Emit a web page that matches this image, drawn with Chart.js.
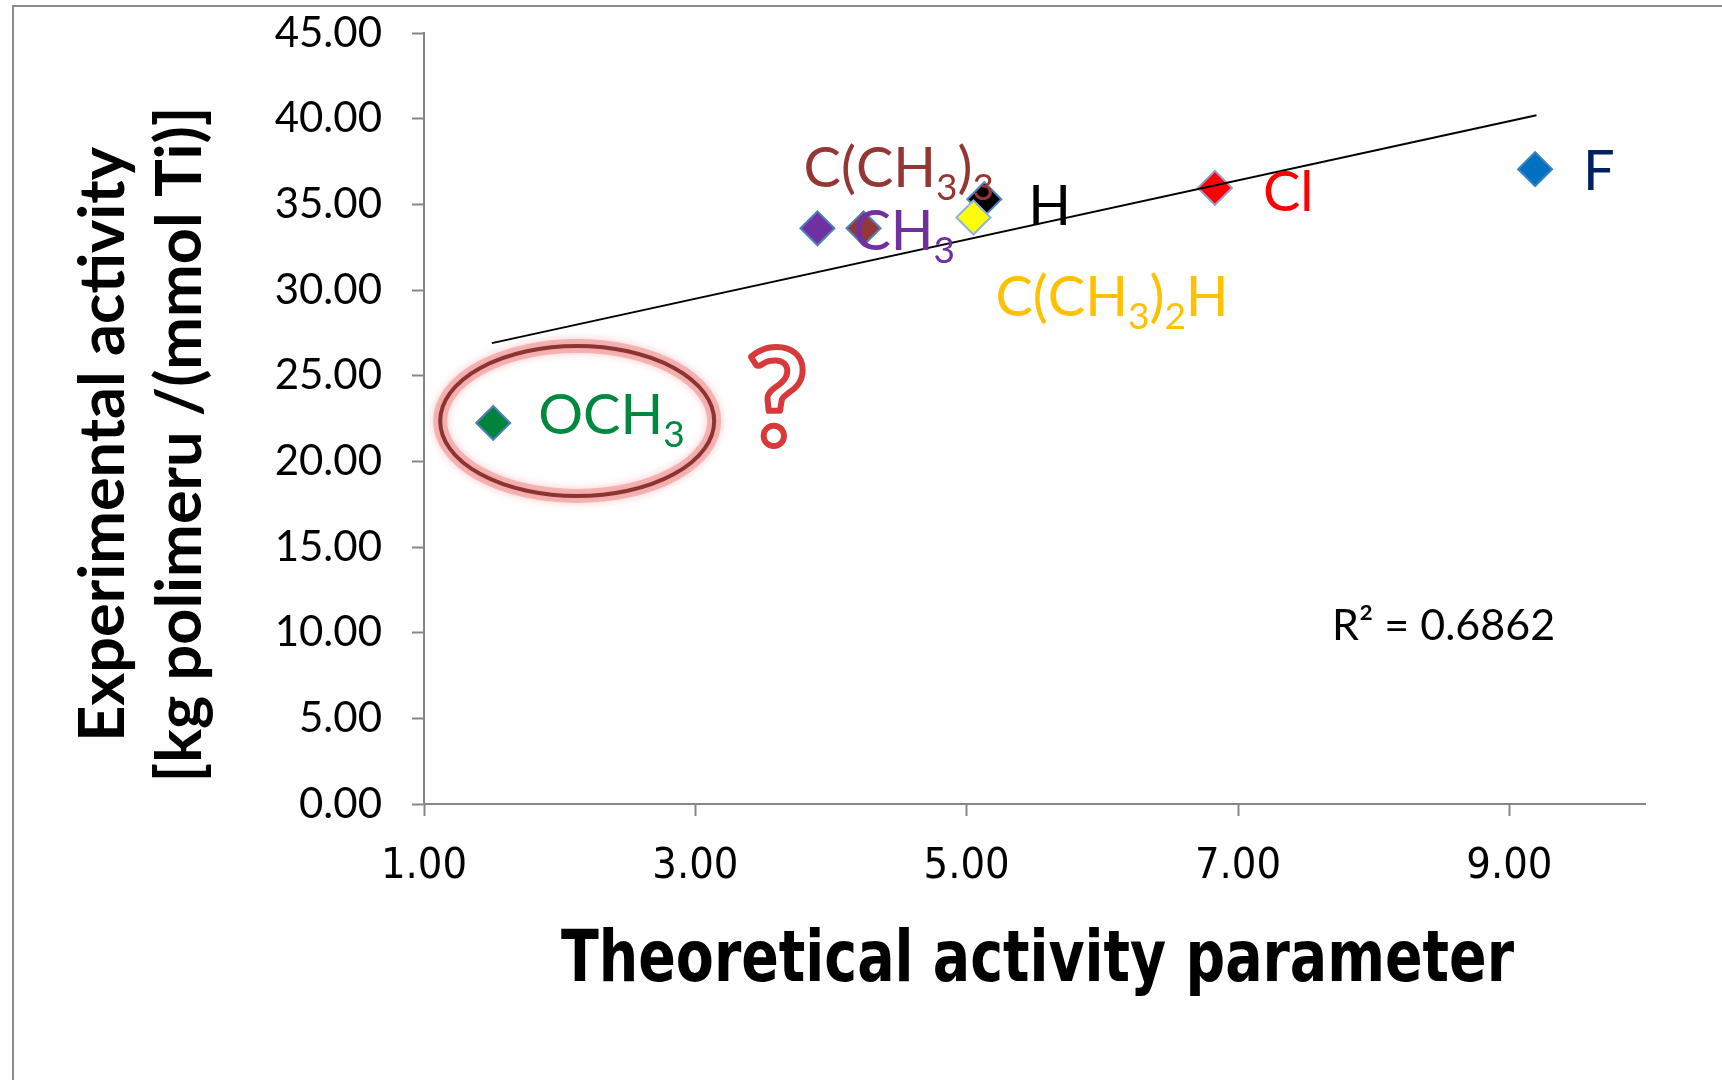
<!DOCTYPE html>
<html>
<head>
<meta charset="utf-8">
<script src="https://cdn.jsdelivr.net/npm/chart.js@4.4.1/dist/chart.umd.min.js"></script>
<style>
    html, body { margin: 0; padding: 0; background: #fff; }
    #wrap { position: relative; width: 1722px; height: 1080px; }
</style>
</head>
<body>
<div id="wrap"><canvas id="myChart" width="1722" height="1080"></canvas></div>
<script>
// values
const substituents = ['OCH_3', 'CH_3', 'C(CH_3)_3', 'H', 'C(CH_3)_2H', 'Cl', 'F'];
const theoretical = [1.51, 3.90, 4.24, 5.13, 5.05, 6.83, 9.19];
const experimental = [22.24, 33.6, 33.6, 35.3, 34.23, 35.96, 37.05];
const trendX = [1.5, 9.2];
const trendY = [26.9, 40.2];
const xTicks = [1, 3, 5, 7, 9];
const yTicks = [0, 5, 10, 15, 20, 25, 30, 35, 40, 45];
const rSquared = 'R\u00B2 = 0.6862';
const xTitle = 'Theoretical activity parameter';
const yTitle = ['Experimental activity', '[kg polimeru /(mmol Ti)]'];

// styles
const pointColors = ['#00843d', '#7030a0', '#953735', '#000000', '#ffff00', '#ff0000', '#0070c0'];
const pointBorders = ['#4f81bd', '#4f81bd', '#4f81bd', '#4f81bd', '#8db3e2', '#9a9ad0', '#3b82c4'];
const labelColors = ['#00883f', '#7030a0', '#943634', '#000000', '#ffc000', '#ff0000', '#002060'];
const labelOffsets = [[45, 11], [36, 22], [-60, -41], [44, 26], [22, 98], [48, 23], [48, 21]];
const axisGray = '#868686';
const narrow = "'DejaVu Sans Condensed', 'DejaVu Sans'";

function drawRich(ctx, str, x, y, size, color) {
    // "_" marks the next character as a subscript
    ctx.fillStyle = color;
    ctx.textAlign = 'left';
    ctx.textBaseline = 'alphabetic';
    let cx = x;
    for (let i = 0; i < str.length; i++) {
        let sub = false;
        let ch = str[i];
        if (ch === '_') { sub = true; i++; ch = str[i]; }
        ctx.font = (sub ? Math.round(size * 0.66) : size) + 'px Lato';
        ctx.fillText(ch, cx, sub ? y + 13 : y);
        cx += ctx.measureText(ch).width;
    }
}

const annotate = {
    id: 'annotate',
    beforeDraw(chart) {
        const ctx = chart.ctx;
        ctx.save();
        ctx.strokeStyle = '#8a8a8a';
        ctx.lineWidth = 2;
        ctx.beginPath();
        ctx.moveTo(13, 1080);
        ctx.lineTo(13, 6);
        ctx.lineTo(1722, 6);
        ctx.stroke();
        ctx.restore();
    },
    afterDatasetsDraw(chart) {
        const ctx = chart.ctx;
        const xs = chart.scales.x, ys = chart.scales.y;
        const area = chart.chartArea;
        ctx.save();

        // circle round OCH3
        const ox = xs.getPixelForValue(theoretical[0]);
        const oy = ys.getPixelForValue(experimental[0]);
        ctx.beginPath();
        ctx.ellipse(ox + 84, oy - 2, 137, 75, 0, 0, 2 * Math.PI);
        ctx.strokeStyle = 'rgba(240,140,140,0.55)';
        ctx.lineWidth = 14;
        ctx.shadowColor = 'rgba(240,120,120,0.7)';
        ctx.shadowBlur = 8;
        ctx.stroke();
        ctx.shadowBlur = 0;
        ctx.shadowColor = 'transparent';
        ctx.strokeStyle = '#8b3532';
        ctx.lineWidth = 4;
        ctx.stroke();

        // point labels
        for (let i = 0; i < substituents.length; i++) {
            const px = xs.getPixelForValue(theoretical[i]);
            const py = ys.getPixelForValue(experimental[i]);
            drawRich(ctx, substituents[i], px + labelOffsets[i][0], py + labelOffsets[i][1], 56, labelColors[i]);
        }

        // question mark
        ctx.font = 'bold 134px Lato';
        ctx.textAlign = 'center';
        ctx.textBaseline = 'alphabetic';
        ctx.lineWidth = 6;
        ctx.lineJoin = 'round';
        ctx.strokeStyle = '#d8393b';
        ctx.strokeText('?', ox + 284, oy + 22);

        // R squared
        ctx.font = '43px Lato';
        ctx.fillStyle = '#000';
        ctx.textAlign = 'left';
        ctx.fillText(rSquared, area.right - 313, area.bottom - 164);

        // x axis title, narrow bold
        ctx.save();
        ctx.font = 'bold 72px ' + narrow;
        ctx.textAlign = 'center';
        const w = ctx.measureText(xTitle).width;
        ctx.translate((area.left + area.right) / 2 + 3, 981);
        ctx.scale(953 / w, 1);
        ctx.fillText(xTitle, 0, 0);
        ctx.restore();

        // y axis title
        ctx.font = 'bold 63px Lato';
        ctx.textAlign = 'center';
        ctx.textBaseline = 'middle';
        const cy = (area.top + area.bottom) / 2 + 26;
        ctx.translate(104, cy);
        ctx.rotate(-Math.PI / 2);
        ctx.fillText(yTitle[0], 0, 0);
        ctx.fillText(yTitle[1], 0, 77);
        ctx.restore();
    }
};

new Chart(document.getElementById('myChart'), {
    type: 'scatter',
    data: {
        datasets: [{
            label: 'trend',
            type: 'line',
            data: trendX.map((v, i) => ({x: v, y: trendY[i]})),
            borderColor: '#000',
            borderWidth: 2,
            pointRadius: 0,
            fill: false,
            order: 0
        }, {
            label: 'activity',
            data: theoretical.map((v, i) => ({x: v, y: experimental[i]})),
            pointStyle: 'rectRot',
            pointRadius: 17,
            pointBackgroundColor: pointColors,
            pointBorderColor: pointBorders,
            pointBorderWidth: 2,
            order: 1
        }]
    },
    options: {
        responsive: false,
        animation: false,
        layout: { padding: { top: 33, right: 77, bottom: 0, left: 0 } },
        plugins: { legend: { display: false }, tooltip: { enabled: false } },
        scales: {
            x: {
                type: 'linear',
                min: 1,
                max: 10,
                afterBuildTicks: s => { s.ticks = xTicks.map(v => ({value: v})); },
                afterFit: s => { s.height = 276; s.paddingLeft = 0; s.paddingRight = 0; },
                border: { color: axisGray, width: 2 },
                grid: { drawOnChartArea: false, tickLength: 12, tickColor: axisGray, tickWidth: 2 },
                ticks: {
                    color: '#000',
                    padding: 25,
                    maxRotation: 0,
                    font: { family: narrow, size: 43 },
                    callback: v => Number(v).toFixed(2)
                }
            },
            y: {
                min: 0,
                max: 45,
                afterBuildTicks: s => { s.ticks = yTicks.map(v => ({value: v})); },
                afterFit: s => { s.width = 424; s.paddingTop = 0; s.paddingBottom = 0; },
                border: { color: axisGray, width: 2 },
                grid: { drawOnChartArea: false, tickLength: 12, tickColor: axisGray, tickWidth: 2 },
                ticks: {
                    color: '#000',
                    padding: 30,
                    font: { family: 'Lato', size: 42 },
                    callback: v => Number(v).toFixed(2)
                }
            }
        }
    },
    plugins: [annotate]
});
</script>
</body>
</html>
